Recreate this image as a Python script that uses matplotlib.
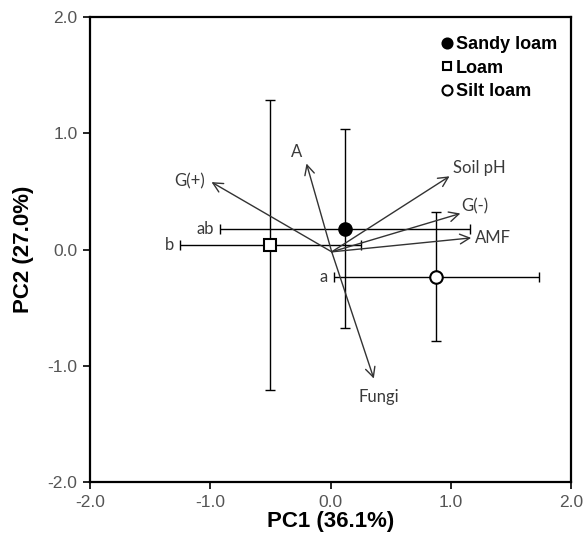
import matplotlib
matplotlib.use("Agg")
import matplotlib.pyplot as plt

plt.rcParams['font.family'] = ['Liberation Sans', 'DejaVu Sans']

#---------------------Data----------------------------
soils = ["Sandy loam", "Loam", "Silt loam"]
pc1 = [0.12, -0.50, 0.88]
pc2 = [0.18, 0.04, -0.235]
pc1_err = [1.04, 0.755, 0.85]
pc2_err = [0.855, 1.25, 0.555]
letters = ["ab", "b", "a"]

variables = ["G(+)", "A", "Soil pH", "G(-)", "AMF", "Fungi"]
load_x = [-0.99, -0.20, 0.99, 1.08, 1.17, 0.36]
load_y = [0.58, 0.74, 0.63, 0.31, 0.10, -1.11]
origin = (0.01, -0.02)

#---------------------Figure--------------------------
fig = plt.figure(figsize=(5.85, 5.49), dpi=100)
ax = fig.add_axes([0.154, 0.122, 0.822, 0.847])

faces = ["black", "white", "white"]
shapes = ["o", "s", "o"]
sizes = [9, 8, 9]
for i in range(len(soils)):
    ax.errorbar(pc1[i], pc2[i], xerr=pc1_err[i], yerr=pc2_err[i],
                fmt="none", ecolor="black", elinewidth=1, capsize=3.5,
                capthick=1, zorder=2)
    ax.plot(pc1[i], pc2[i], marker=shapes[i], ms=sizes[i],
            mfc=faces[i], mec="black", mew=1.5, ls="none",
            label=soils[i], zorder=4)
    # letters to the left of the x error bar
    ax.text(pc1[i] - pc1_err[i] - 0.05, pc2[i], letters[i], ha="right",
            va="center", fontsize=12, color="#3a3a3a", family="Lato")

# loading vectors
lab_dx = [-0.18, -0.08, 0.25, 0.12, 0.18, 0.04]
lab_dy = [0.01, 0.10, 0.07, 0.06, 0.0, -0.16]
for i in range(len(variables)):
    ax.annotate("", xy=(load_x[i], load_y[i]), xytext=origin,
                arrowprops=dict(arrowstyle="->,head_length=0.7,head_width=0.35",
                                color="#333333", lw=1, shrinkA=0, shrinkB=0),
                zorder=3)
    ax.text(load_x[i] + lab_dx[i], load_y[i] + lab_dy[i], variables[i],
            ha="center", va="center", fontsize=12, color="#3a3a3a",
            family="Lato")

#---------------------Axes----------------------------
ax.set_xlim(-2, 2)
ax.set_ylim(-2, 2)
ax.set_xticks([-2, -1, 0, 1, 2])
ax.set_yticks([-2, -1, 0, 1, 2])
ax.set_xticklabels(["-2.0", "-1.0", "0.0", "1.0", "2.0"])
ax.set_yticklabels(["-2.0", "-1.0", "0.0", "1.0", "2.0"])
ax.tick_params(direction="out", length=5, width=1.2, labelsize=12.5,
               labelcolor="#555555", pad=4)
for s in ax.spines.values():
    s.set_linewidth(1.6)
ax.set_xlabel("PC1 (36.1%)", fontsize=16, fontweight="bold", labelpad=1)
ax.set_ylabel("PC2 (27.0%)", fontsize=16, fontweight="bold", labelpad=10)

leg = ax.legend(loc="upper right", frameon=False, markerscale=0.8,
                prop={"weight": "bold", "size": 13}, handlelength=0.6,
                handletextpad=0.2, labelspacing=0.36, borderaxespad=0.4,
                bbox_to_anchor=(1.002, 0.99))

fig.savefig("out.png", dpi=100)
